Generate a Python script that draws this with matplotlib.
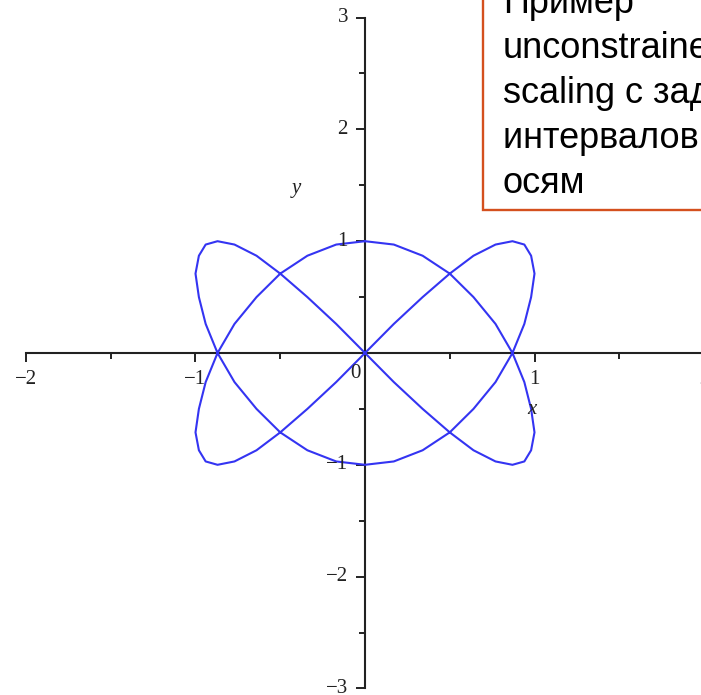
import matplotlib
matplotlib.use("Agg")
import matplotlib.pyplot as plt
import matplotlib.transforms as mtransforms
from matplotlib.markers import TICKDOWN, TICKLEFT
from matplotlib.patches import Rectangle

# curve points (closed loop, traced once)
curve_x = [0.0, 0.17, 0.34, 0.5, 0.64, 0.77, 0.87, 0.94, 0.98, 1.0, 0.98, 0.94,
           0.87, 0.77, 0.64, 0.5, 0.34, 0.17, 0.0, -0.17, -0.34, -0.5, -0.64, -0.77,
           -0.87, -0.94, -0.98, -1.0, -0.98, -0.94, -0.87, -0.77, -0.64, -0.5, -0.34, -0.17,
           0.0, 0.17, 0.34, 0.5, 0.64, 0.77, 0.87, 0.94, 0.98, 1.0, 0.98, 0.94,
           0.87, 0.77, 0.64, 0.5, 0.34, 0.17, 0.0, -0.17, -0.34, -0.5, -0.64, -0.77,
           -0.87, -0.94, -0.98, -1.0, -0.98, -0.94, -0.87, -0.77, -0.64, -0.5, -0.34, -0.17,
           0.0]
curve_y = [1.0, 0.97, 0.87, 0.71, 0.5, 0.26, 0.0, -0.26, -0.5, -0.71, -0.87, -0.97,
           -1.0, -0.97, -0.87, -0.71, -0.5, -0.26, 0.0, 0.26, 0.5, 0.71, 0.87, 0.97,
           1.0, 0.97, 0.87, 0.71, 0.5, 0.26, 0.0, -0.26, -0.5, -0.71, -0.87, -0.97,
           -1.0, -0.97, -0.87, -0.71, -0.5, -0.26, 0.0, 0.26, 0.5, 0.71, 0.87, 0.97,
           1.0, 0.97, 0.87, 0.71, 0.5, 0.26, 0.0, -0.26, -0.5, -0.71, -0.87, -0.97,
           -1.0, -0.97, -0.87, -0.71, -0.5, -0.26, 0.0, 0.26, 0.5, 0.71, 0.87, 0.97,
           1.0]

# axis ticks and labels
x_ticks = [-2, -1, 0, 1, 2]
x_tick_labels = ["\u22122", "\u22121", "0", "1", "2"]
x_minor = [-1.5, -0.5, 0.5, 1.5]
y_ticks = [-3, -2, -1, 1, 2, 3]
y_tick_labels = ["\u22123", "\u22122", "\u22121", "1", "2", "3"]
y_minor = [-2.5, -1.5, -0.5, 0.5, 1.5, 2.5]

# note box text
note_lines = ["Пример", "unconstrained", "scaling с заданием", "интервалов по", "осям"]

W, H = 701, 695
X0, Y0 = 365, 353          # pixel position of the origin
SX, SY = 169.5, 111.8      # pixels per unit

fig = plt.figure(figsize=(W / 100, H / 100), dpi=100)
ax = fig.add_axes([0, 0, 1, 1])
ax.set_xlim(-X0 / SX, (W - X0) / SX)
ax.set_ylim((Y0 - H) / SY, Y0 / SY)
ax.axis("off")

axis_color = "#222222"
num_font = dict(family="Liberation Serif", fontsize=15, color="#222222")

# axis lines
ax.plot([x_ticks[0], x_ticks[-1]], [0, 0], color=axis_color, lw=1.5, clip_on=False, zorder=1)
ax.plot([0, 0], [y_ticks[0], y_ticks[-1]], color=axis_color, lw=1.5, clip_on=False, zorder=1)

# tick marks
ax.plot(x_ticks, [0] * len(x_ticks), ls="", marker=TICKDOWN, ms=6.5, mew=1.4,
        color=axis_color, clip_on=False, zorder=1)
ax.plot(x_minor, [0] * len(x_minor), ls="", marker=TICKDOWN, ms=4.2, mew=1.4,
        color=axis_color, clip_on=False, zorder=1)
ax.plot([0] * len(y_ticks), y_ticks, ls="", marker=TICKLEFT, ms=6.5, mew=1.4,
        color=axis_color, clip_on=False, zorder=1)
ax.plot([0] * len(y_minor), y_minor, ls="", marker=TICKLEFT, ms=4.2, mew=1.4,
        color=axis_color, clip_on=False, zorder=1)

# tick labels
below = mtransforms.offset_copy(ax.transData, fig=fig, x=0, y=-27, units="dots")
for v, lab in zip(x_ticks, x_tick_labels):
    if v == 0:
        # zero label sits left of the y axis
        tr = mtransforms.offset_copy(ax.transData, fig=fig, x=-10, y=-21, units="dots")
        ax.text(v, 0, lab, transform=tr, ha="center", va="center", zorder=3, **num_font)
    else:
        ax.text(v, 0, lab, transform=below, ha="center", va="center", zorder=3, **num_font)

left = mtransforms.offset_copy(ax.transData, fig=fig, x=-17, y=0, units="dots")
for v, lab in zip(y_ticks, y_tick_labels):
    ax.text(0, v, lab, transform=left, ha="right", va="center", zorder=3, **num_font)

# axis names
ax.text((532 - X0) / SX, (Y0 - 410) / SY, "x", ha="center", va="center",
        style="italic", zorder=3, **num_font)
ax.text((296 - X0) / SX, (Y0 - 189) / SY, "y", ha="center", va="center",
        style="italic", zorder=3, **num_font)

# the curve
ax.plot(curve_x, curve_y, color="#3434f2", lw=1.5, zorder=2, solid_joinstyle="round")

# note box, cut by the right and top edges
box = Rectangle((483 / W, 1 - 210 / H), 0.6, 0.6, transform=fig.transFigure,
                facecolor="white", edgecolor="#d4501e", lw=1.7, zorder=5)
fig.add_artist(box)
for i, line in enumerate(note_lines):
    base = 13 + 45 * i
    fig.text(503 / W, 1 - base / H, line, ha="left", va="baseline",
             family="Liberation Sans", fontsize=26, color="black", zorder=6)

fig.savefig("out.png", dpi=100)
